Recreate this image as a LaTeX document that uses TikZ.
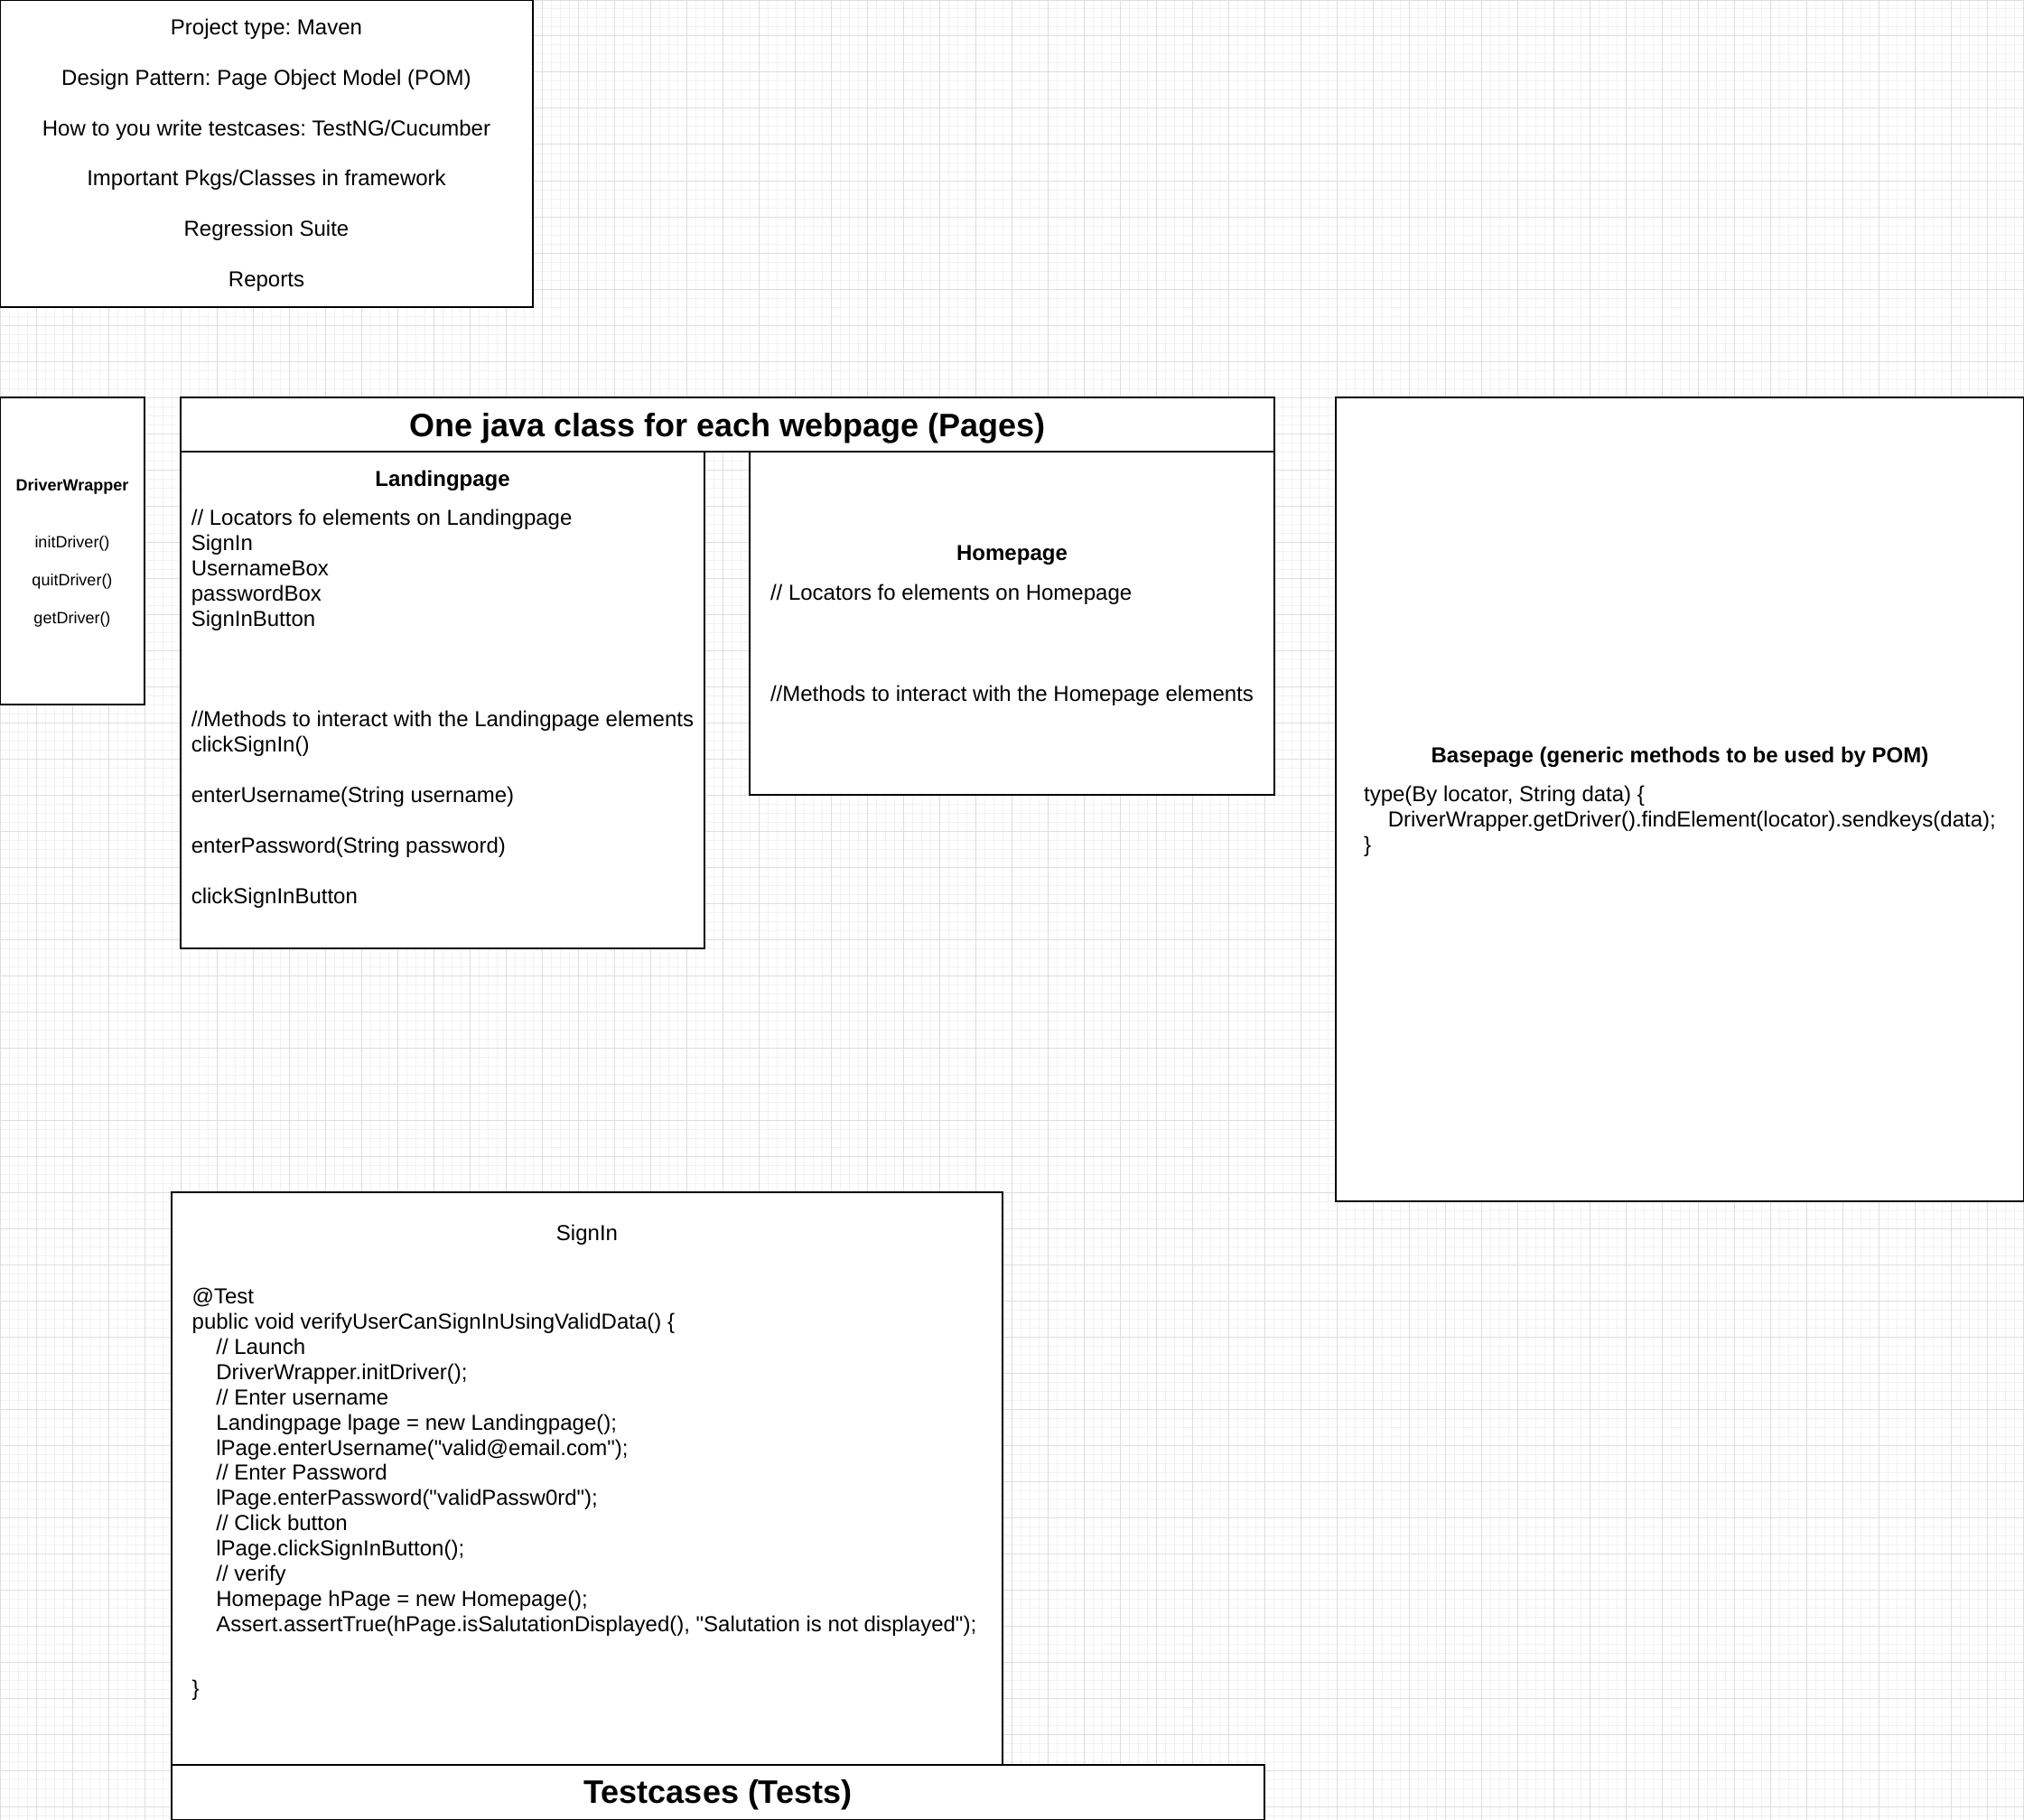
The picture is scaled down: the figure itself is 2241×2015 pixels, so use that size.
\documentclass[tikz,border=0pt]{standalone}
\usepackage{fontspec}
\setmainfont{Liberation Sans}[Ligatures=TeXOff]
\frenchspacing
\definecolor{gridminor}{HTML}{F2F2F2}
\definecolor{gridmajor}{HTML}{DEDEDE}
\newcommand{\codeindent}{\hspace*{26.7pt}}
\begin{document}
\begin{tikzpicture}[x=1pt, y=-1pt,
    classbox/.style={draw, line width=1.3pt, fill=white},
    txt/.style={inner sep=0pt, anchor=north, align=left, font=\fontsize{24}{27.9}\selectfont},
    ctxt/.style={txt, align=center},
    bigtitle/.style={inner sep=0pt, font=\fontsize{36}{42}\selectfont\bfseries}]
  \useasboundingbox (0,0) rectangle (2241,2015);
  \draw[gridminor, line width=1pt, step=10pt] (0,0) grid (2241,2015);
  \draw[gridmajor, line width=1pt, step=40pt] (0,0) grid (2241,2015);

  \draw[classbox] (0.6,0.6) rectangle (590,340);
  \draw[classbox] (0.6,440) rectangle (160,780);
  \draw[classbox] (200,440) rectangle (1411,500);
  \draw[classbox] (200,500) rectangle (780,1050);
  \draw[classbox] (830,500) rectangle (1411,880);
  \draw[classbox] (1479,440) rectangle (2240.4,1330);
  \draw[classbox] (190,1320) rectangle (1110,1954);
  \draw[classbox] (190,1954) rectangle (1400,2014.4);

  \node[ctxt] (overview) at (295,21) {Project type: Maven\\ \\Design Pattern: Page Object Model (POM)\\ \\How to you write testcases: TestNG/Cucumber\\ \\Important Pkgs/Classes in framework\\ \\Regression Suite\\ \\Reports};

  \node[ctxt, font=\fontsize{18}{21}\selectfont] (driverwrapper) at (80,530) {\textbf{DriverWrapper}\\ \\ \\initDriver()\\ \\quitDriver()\\ \\getDriver()};

  \node[bigtitle] (pagestitle) at (805.5,474) {One java class for each webpage (Pages)};

  \node[ctxt, font=\fontsize{24}{27.9}\selectfont\bfseries] (landingtitle) at (490,521) {Landingpage};
  \node[txt] (landingbody) at (490,564) {// Locators fo elements on Landingpage\\SignIn\\UsernameBox\\passwordBox\\SignInButton\\ \\ \\ \\//Methods to interact with the Landingpage elements\\clickSignIn()\\ \\enterUsername(String username)\\ \\enterPassword(String password)\\ \\clickSignInButton};

  \node[ctxt, font=\fontsize{24}{27.9}\selectfont\bfseries] (hometitle) at (1120.5,604) {Homepage};
  \node[txt] (homebody) at (1120.5,647) {// Locators fo elements on Homepage\\ \\ \\ \\//Methods to interact with the Homepage elements};

  \node[ctxt, font=\fontsize{24}{27.9}\selectfont\bfseries] (basetitle) at (1860,827) {Basepage (generic methods to be used by POM)};
  \node[txt] (basebody) at (1860,870) {type(By locator, String data) \{\\\codeindent DriverWrapper.getDriver().findElement(locator).sendkeys(data);\\\}};

  \node[ctxt] (signintitle) at (650,1356) {SignIn};
  \node[txt] (signinbody) at (647,1426) {@Test\\
    public void verifyUserCanSignInUsingValidData() \{\\
    \codeindent // Launch\\
    \codeindent DriverWrapper.initDriver();\\
    \codeindent // Enter username\\
    \codeindent Landingpage lpage = new Landingpage();\\
    \codeindent lPage.enterUsername("valid@email.com");\\
    \codeindent // Enter Password\\
    \codeindent lPage.enterPassword("validPassw0rd");\\
    \codeindent // Click button\\
    \codeindent lPage.clickSignInButton();\\
    \codeindent // verify\\
    \codeindent Homepage hPage = new Homepage();\\
    \codeindent Assert.assertTrue(hPage.isSalutationDisplayed(), "Salutation is not displayed");\\[43pt]
    \}};

  \node[bigtitle] (teststitle) at (795,1987) {Testcases (Tests)};
\end{tikzpicture}
\end{document}
